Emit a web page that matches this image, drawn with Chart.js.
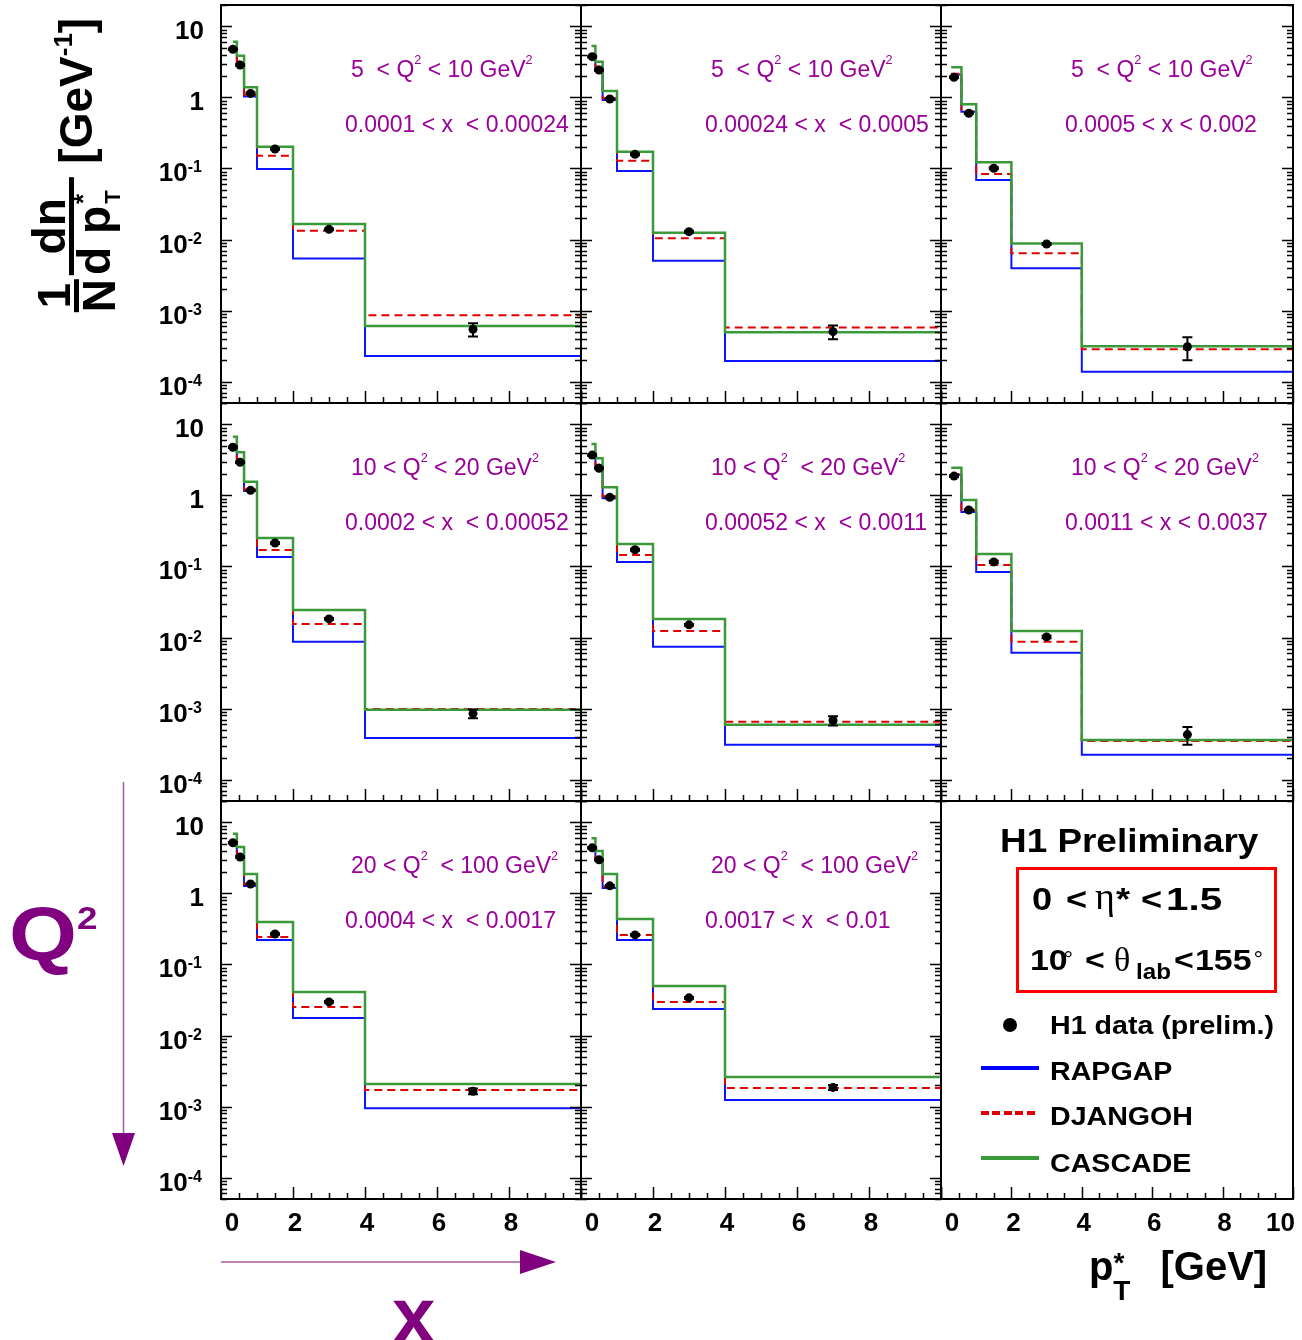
<!DOCTYPE html>
<html lang="en">
<head>
<meta charset="UTF-8">
<title>H1 charged particle pT* spectra</title>
<script src="https://cdn.jsdelivr.net/npm/chart.js@4.4.0/dist/chart.umd.min.js"></script>
<style>
  body { margin: 0; background: #fff; font-family: "Liberation Sans", Arial, sans-serif; }
  #page { position: relative; width: 1302px; height: 1340px; overflow: hidden; }
  canvas.panel { position: absolute; z-index: 1; }
  .abs { position: absolute; white-space: nowrap; line-height: 1; z-index: 2; }
  .b { font-weight: bold; }
  .wide { transform: scaleX(1.13); transform-origin: 0 0; }
  .purple { color: #800080; }
  #ytitle { position: absolute; left: 76px; top: 165px; transform: translate(-50%, -50%) rotate(-90deg); z-index: 2;
            display: flex; align-items: center; font: bold 46px "Liberation Sans", Arial, sans-serif; white-space: nowrap; }
  .frac { display: inline-flex; flex-direction: column; align-items: center; }
  .frac > .n, .frac > .d { line-height: 36px; }
  .frac > .bar { align-self: stretch; height: 5px; background: #000; margin: 2px 0; }
  .greek { font-family: "Liberation Serif", "DejaVu Serif", serif; font-weight: normal; }
  .leg { left: 1050px; font-size: 26px; font-weight: bold; transform: scaleX(1.1); transform-origin: 0 0; }
  .l1 { top: 883px; font-size: 32px; font-weight: bold; }
  .l2 { top: 945px; font-size: 30px; font-weight: bold; }
  .deg { top: 947px; font-size: 24px; }
</style>
</head>
<body>
<div id="page">
  <div id="ytitle">
    <span class="frac"><span class="n">1</span><span class="bar"></span><span class="d">N</span></span>
    <span class="frac" style="margin-left:4px"><span class="n">dn</span><span class="bar"></span><span class="d">d&nbsp;p<span style="font-size:26px;position:relative;top:-18px;margin-left:2px">*</span><span style="font-size:22px;position:relative;top:10px;margin-left:-10px">T</span>&nbsp;</span></span>
    <span style="margin-left:14px">[GeV<span style="font-size:26px;position:relative;top:-20px">-1</span>]</span>
  </div>

  <svg class="abs" style="left:0;top:0" width="1302" height="1340">
    <line x1="123.5" y1="782" x2="123.5" y2="1140" stroke="#a45ca4" stroke-width="1.5"/>
    <polygon points="112,1133 135,1133 123.5,1166" fill="#800080"/>
    <line x1="221" y1="1262" x2="525" y2="1262" stroke="#a45ca4" stroke-width="1.5"/>
    <polygon points="520,1250 520,1274 556,1262" fill="#800080"/>
  </svg>
  <div class="abs b purple" style="left:8.5px;top:896px;font-size:76px;transform:scaleX(1.15);transform-origin:0 0">Q<span style="font-size:32px;position:relative;top:-31px">2</span></div>
  <div class="abs b purple" style="left:392px;top:1276px;font-size:78px">x</div>
  <div class="abs b" style="left:1089px;top:1246px;font-size:40px">p<span style="font-size:28px;position:relative;top:-8px">*</span><span style="font-size:28px;position:relative;top:20px;margin-left:-11px">T</span><span style="margin-left:30px">[GeV]</span></div>

  <div class="abs b" style="left:1000px;top:823px;font-size:34px;transform:scaleX(1.085);transform-origin:0 0">H1 Preliminary</div>
  <div class="abs" style="left:1016px;top:867px;width:261px;height:126px;border:3px solid #ff0000;box-sizing:border-box"></div>
  <span class="abs l1 wide" style="left:1031.5px">0</span>
  <span class="abs l1 wide" style="left:1066px">&lt;</span>
  <span class="abs greek" style="left:1095px;top:877px;font-size:38px">&eta;</span>
  <span class="abs l1 wide" style="left:1116px">*</span>
  <span class="abs l1 wide" style="left:1141px">&lt;</span>
  <span class="abs l1" style="left:1166px;transform:scaleX(1.26);transform-origin:0 0">1.5</span>
  <span class="abs l2 wide" style="left:1030px">10</span>
  <span class="abs deg" style="left:1063.5px">&deg;</span>
  <span class="abs l2 wide" style="left:1085px">&lt;</span>
  <span class="abs greek" style="left:1114px;top:943px;font-size:34px">&theta;</span>
  <span class="abs b" style="left:1136px;top:961px;font-size:22px;transform:scaleX(1.1);transform-origin:0 0">lab</span>
  <span class="abs l2 wide" style="left:1174px">&lt;</span>
  <span class="abs l2 wide" style="left:1194.5px">155</span>
  <span class="abs deg" style="left:1253.5px">&deg;</span>

  <div class="abs" style="left:1003px;top:1018px;width:14px;height:14px;border-radius:50%;background:#000"></div>
  <div class="abs leg" style="top:1012px">H1 data (prelim.)</div>
  <div class="abs" style="left:981px;top:1066px;width:58px;height:4px;background:#0000ff"></div>
  <div class="abs leg" style="top:1058px">RAPGAP</div>
  <div class="abs" style="left:981px;top:1111px;width:56px;height:4px;background:repeating-linear-gradient(90deg,#e00000 0 8px,transparent 8px 11.5px)"></div>
  <div class="abs leg" style="top:1103px">DJANGOH</div>
  <div class="abs" style="left:981px;top:1156px;width:58px;height:4px;background:#3a9a3a"></div>
  <div class="abs leg" style="top:1150px">CASCADE</div>
</div>
<script>
// pT* bin edges of the three x columns (GeV)
const edgesLowX  = [0.33, 0.44, 0.64, 1, 2, 4, 10];
const edgesMidX  = [0.29, 0.40, 0.60, 1, 2, 4, 10];
const edgesHighX = [0.29, 0.58, 1, 2, 4, 10];
// where the data points sit inside the bins
const ptLowX  = [0.33, 0.53, 0.82, 1.5, 3, 7];
const ptMidX  = [0.31, 0.50, 0.80, 1.5, 3, 7];
const ptHighX = [0.37, 0.79, 1.5, 3, 7];

// axis ticks
const xTickValues = [0, 2, 4, 6, 8, 10];
const yTickValues = [10, 1, 0.1, 0.01, 0.001, 0.0001];
const yTickBase = ['10', '1', '10', '10', '10', '10'];
const yTickExp  = ['', '', '-1', '-2', '-3', '-4'];

// 5 < Q2 < 10, 0.0001 < x < 0.00024
const h1_a      = [4.77, 2.86, 1.14, 0.188, 0.0139, 5.46e-4];
const err_a     = [0.12, 0.07, 0.03, 0.005, 0.0004, 1.15e-4];
const rapgap_a  = [4.6, 2.9, 1.03, 0.098, 0.0054, 2.3e-4];
const djangoh_a = [5.0, 3.2, 1.08, 0.151, 0.0133, 8.6e-4];
const cascade_a = [6.1, 3.85, 1.39, 0.203, 0.0166, 6.07e-4];
// 5 < Q2 < 10, 0.00024 < x < 0.0005
const h1_b      = [3.75, 2.43, 0.95, 0.158, 0.0129, 5.05e-4];
const err_b     = [0.1, 0.06, 0.025, 0.004, 0.0004, 1.1e-4];
const rapgap_b  = [3.8, 2.6, 0.92, 0.092, 0.00503, 1.95e-4];
const djangoh_b = [4.0, 2.7, 0.97, 0.128, 0.0104, 5.8e-4];
const cascade_b = [5.3, 3.18, 1.23, 0.172, 0.0125, 4.94e-4];
// 5 < Q2 < 10, 0.0005 < x < 0.002
const h1_c      = [1.92, 0.598, 0.1007, 0.00865, 3.1e-4];
const err_c     = [0.05, 0.015, 0.003, 0.0003, 1.1e-4];
const rapgap_c  = [2.1, 0.63, 0.0689, 0.00394, 1.38e-4];
const djangoh_c = [2.15, 0.64, 0.0838, 0.0064, 2.85e-4];
const cascade_c = [2.66, 0.80, 0.122, 0.0088, 3.15e-4];
// 10 < Q2 < 20, 0.0002 < x < 0.00052
const h1_d      = [4.77, 2.93, 1.18, 0.214, 0.0183, 8.5e-4];
const err_d     = [0.12, 0.07, 0.03, 0.006, 0.0005, 1.2e-4];
const rapgap_d  = [4.7, 2.98, 1.15, 0.136, 0.0087, 3.86e-4];
const djangoh_d = [5.0, 3.2, 1.2, 0.17, 0.0155, 9.9e-4];
const cascade_d = [6.7, 4.05, 1.56, 0.252, 0.0244, 9.6e-4];
// 10 < Q2 < 20, 0.00052 < x < 0.0011
const h1_e      = [3.7, 2.41, 0.94, 0.172, 0.0151, 6.8e-4];
const err_e     = [0.1, 0.06, 0.025, 0.005, 0.0004, 1.0e-4];
const rapgap_e  = [3.75, 2.54, 0.91, 0.116, 0.0074, 3.1e-4];
const djangoh_e = [4.0, 2.7, 0.97, 0.145, 0.0124, 6.5e-4];
const cascade_e = [5.3, 3.33, 1.30, 0.207, 0.0183, 5.9e-4];
// 10 < Q2 < 20, 0.0011 < x < 0.0037
const h1_f      = [1.87, 0.624, 0.116, 0.0102, 4.3e-4];
const err_f     = [0.05, 0.016, 0.004, 0.0004, 1.2e-4];
const rapgap_f  = [1.95, 0.585, 0.0838, 0.0061, 2.24e-4];
const djangoh_f = [2.0, 0.62, 0.105, 0.0087, 3.5e-4];
const cascade_f = [2.45, 0.86, 0.15, 0.0124, 3.6e-4];
// 20 < Q2 < 100, 0.0004 < x < 0.0017
const h1_g      = [5.16, 3.26, 1.36, 0.269, 0.0297, 1.64e-3];
const err_g     = [0.13, 0.08, 0.035, 0.007, 0.0008, 1.5e-4];
const rapgap_g  = [5.0, 3.3, 1.27, 0.221, 0.0177, 9.5e-4];
const djangoh_g = [5.4, 3.5, 1.35, 0.244, 0.0252, 1.71e-3];
const cascade_g = [6.9, 4.5, 1.88, 0.396, 0.041, 2.08e-3];
// 20 < Q2 < 100, 0.0017 < x < 0.01
const h1_h      = [4.38, 2.97, 1.28, 0.261, 0.0339, 1.86e-3];
const err_h     = [0.11, 0.07, 0.03, 0.007, 0.0009, 1.5e-4];
const rapgap_h  = [4.4, 3.0, 1.19, 0.221, 0.0237, 1.24e-3];
const djangoh_h = [4.6, 3.1, 1.25, 0.26, 0.0297, 1.83e-3];
const cascade_h = [6.0, 3.95, 1.88, 0.436, 0.0498, 2.6e-3];

// '^' marks a superscript piece
const panels = [
  { row: 0, col: 0, edges: edgesLowX,  pts: ptLowX,  h1: h1_a, err: err_a, rap: rapgap_a, dja: djangoh_a, cas: cascade_a,
    q2: ['5  < Q', '^2', ' < 10 GeV', '^2'], xr: '0.0001 < x  < 0.00024' },
  { row: 0, col: 1, edges: edgesMidX,  pts: ptMidX,  h1: h1_b, err: err_b, rap: rapgap_b, dja: djangoh_b, cas: cascade_b,
    q2: ['5  < Q', '^2', ' < 10 GeV', '^2'], xr: '0.00024 < x  < 0.0005' },
  { row: 0, col: 2, edges: edgesHighX, pts: ptHighX, h1: h1_c, err: err_c, rap: rapgap_c, dja: djangoh_c, cas: cascade_c,
    q2: ['5  < Q', '^2', ' < 10 GeV', '^2'], xr: '0.0005 < x < 0.002' },
  { row: 1, col: 0, edges: edgesLowX,  pts: ptLowX,  h1: h1_d, err: err_d, rap: rapgap_d, dja: djangoh_d, cas: cascade_d,
    q2: ['10 < Q', '^2', ' < 20 GeV', '^2'], xr: '0.0002 < x  < 0.00052' },
  { row: 1, col: 1, edges: edgesMidX,  pts: ptMidX,  h1: h1_e, err: err_e, rap: rapgap_e, dja: djangoh_e, cas: cascade_e,
    q2: ['10 < Q', '^2', '  < 20 GeV', '^2'], xr: '0.00052 < x  < 0.0011' },
  { row: 1, col: 2, edges: edgesHighX, pts: ptHighX, h1: h1_f, err: err_f, rap: rapgap_f, dja: djangoh_f, cas: cascade_f,
    q2: ['10 < Q', '^2', ' < 20 GeV', '^2'], xr: '0.0011 < x < 0.0037' },
  { row: 2, col: 0, edges: edgesLowX,  pts: ptLowX,  h1: h1_g, err: err_g, rap: rapgap_g, dja: djangoh_g, cas: cascade_g,
    q2: ['20 < Q', '^2', '  < 100 GeV', '^2'], xr: '0.0004 < x  < 0.0017' },
  { row: 2, col: 1, edges: edgesMidX,  pts: ptMidX,  h1: h1_h, err: err_h, rap: rapgap_h, dja: djangoh_h, cas: cascade_h,
    q2: ['20 < Q', '^2', '  < 100 GeV', '^2'], xr: '0.0017 < x  < 0.01' }
];

const colLeft = [221, 581, 941];
const colWidth = [360, 360, 352];
const rowTop = [5, 403, 801];
const rowHeight = 398;
const PAD = { left: 100, right: 8, top: 8, bottom: 50 };
const FONT = '"Liberation Sans", Arial, sans-serif';
const page = document.getElementById('page');

// histogram outline: one point per lower edge, plus the last upper edge
function steps(edges, vals) {
  const out = vals.map((v, i) => ({ x: edges[i], y: v }));
  out.push({ x: edges[edges.length - 1], y: vals[vals.length - 1] });
  return out;
}

function makeCanvas(row, col) {
  const c = document.createElement('canvas');
  c.className = 'panel';
  const w = colWidth[col] + PAD.left + PAD.right;
  const h = rowHeight + PAD.top + PAD.bottom;
  c.width = w; c.height = h;
  c.style.width = w + 'px'; c.style.height = h + 'px';
  c.style.left = (colLeft[col] - PAD.left) + 'px';
  c.style.top = (rowTop[row] - PAD.top) + 'px';
  page.appendChild(c);
  return c;
}

function drawRich(ctx, x, y, parts, size) {
  for (const p of parts) {
    const sup = p[0] === '^';
    const t = sup ? p.slice(1) : p;
    ctx.font = (sup ? size * 0.55 : size) + 'px ' + FONT;
    ctx.fillText(t, x, sup ? y - size * 0.55 : y);
    x += ctx.measureText(t).width;
  }
}

// frame, inward ticks, tick labels and the bin captions
function decoPlugin(cfg) {
  return {
    id: 'deco',
    beforeDatasetDraw(chart, args) {
      if (args.index !== 0 || !cfg.err) return;
      const { ctx, scales: { y } } = chart;
      const meta = chart.getDatasetMeta(0);
      ctx.save();
      ctx.strokeStyle = '#000';
      ctx.lineWidth = 2;
      meta.data.forEach((pt, i) => {
        const v = cfg.h1[i], e = cfg.err[i];
        const yl = y.getPixelForValue(v - e), yh = y.getPixelForValue(v + e);
        ctx.beginPath();
        ctx.moveTo(pt.x, yl); ctx.lineTo(pt.x, yh);
        ctx.moveTo(pt.x - 5, yl); ctx.lineTo(pt.x + 5, yl);
        ctx.moveTo(pt.x - 5, yh); ctx.lineTo(pt.x + 5, yh);
        ctx.stroke();
      });
      ctx.restore();
    },
    afterDatasetsDraw(chart) {
      const { ctx, chartArea: a, scales: { x, y } } = chart;
      ctx.save();
      ctx.strokeStyle = '#000';
      ctx.lineWidth = 1.5;
      ctx.beginPath();
      if (cfg.yTicks) {
        for (let e = -5; e <= 1; e++) {
          for (let m = 1; m <= 9; m++) {
            const v = m * Math.pow(10, e);
            if (v < y.min * 0.999 || v > y.max * 1.001) continue;
            const py = Math.round(y.getPixelForValue(v)) + 0.5;
            const len = m === 1 ? 11 : 6;
            ctx.moveTo(a.left, py); ctx.lineTo(a.left + len, py);
            ctx.moveTo(a.right - len, py); ctx.lineTo(a.right, py);
          }
        }
      }
      for (let t = 0; t <= 10.001; t += 0.5) {
        const px = Math.round(x.getPixelForValue(t)) + 0.5;
        const len = t % 2 === 0 ? 12 : 6;
        ctx.moveTo(px, a.bottom); ctx.lineTo(px, a.bottom - len);
      }
      ctx.stroke();
      ctx.lineWidth = 2;
      ctx.strokeRect(a.left, a.top, a.right - a.left, a.bottom - a.top);

      ctx.fillStyle = '#000';
      ctx.textBaseline = 'alphabetic';
      if (cfg.yLabels) {
        yTickValues.forEach((v, i) => {
          const py = y.getPixelForValue(v);
          ctx.font = 'bold 26px ' + FONT;
          const wb = ctx.measureText(yTickBase[i]).width;
          ctx.font = 'bold 16px ' + FONT;
          const we = yTickExp[i] ? ctx.measureText(yTickExp[i]).width : 0;
          const right = a.left - (yTickExp[i] ? 19 : 17);
          ctx.textAlign = 'left';
          ctx.font = 'bold 26px ' + FONT;
          ctx.fillText(yTickBase[i], right - we - wb, py + 13);
          if (we) {
            ctx.font = 'bold 16px ' + FONT;
            ctx.fillText(yTickExp[i], right - we, py + 4);
          }
        });
      }
      if (cfg.xLabels) {
        ctx.font = 'bold 26px ' + FONT;
        xTickValues.forEach(v => {
          if (v === 10 && !cfg.showTen) return;
          const px = x.getPixelForValue(v);
          if (v === 0) { ctx.textAlign = 'center'; ctx.fillText('0', a.left + 11, a.bottom + 32); }
          else if (v === 10) { ctx.textAlign = 'right'; ctx.fillText('10', a.right + 2, a.bottom + 32); }
          else { ctx.textAlign = 'center'; ctx.fillText(String(v), px + 2, a.bottom + 32); }
        });
      }
      if (cfg.q2) {
        ctx.fillStyle = '#990099';
        ctx.textAlign = 'left';
        drawRich(ctx, a.left + 130, a.top + 72, cfg.q2, 23);
        drawRich(ctx, a.left + 124, a.top + 127, [cfg.xr], 23);
      }
      ctx.restore();
    }
  };
}

function baseOptions() {
  return {
    responsive: false,
    animation: false,
    devicePixelRatio: 1,
    events: [],
    layout: { padding: PAD },
    scales: {
      x: { type: 'linear', min: 0, max: 10, display: false },
      y: { type: 'logarithmic', min: 5e-5, max: 20, display: false }
    },
    plugins: { legend: { display: false }, tooltip: { enabled: false } }
  };
}

panels.forEach(p => {
  const canvas = makeCanvas(p.row, p.col);
  new Chart(canvas, {
    type: 'scatter',
    data: {
      datasets: [
        { type: 'scatter', label: 'H1 data (prelim.)', data: p.pts.map((x, i) => ({ x, y: p.h1[i] })),
          pointRadius: 4.5, pointBackgroundColor: '#000', pointBorderWidth: 0, showLine: false },
        { type: 'line', label: 'CASCADE', data: steps(p.edges, p.cas), stepped: true, fill: false,
          borderColor: '#3a9a3a', borderWidth: 2.5, pointRadius: 0 },
        { type: 'line', label: 'DJANGOH', data: steps(p.edges, p.dja), stepped: true, fill: false,
          borderColor: '#e00000', borderWidth: 2, borderDash: [8, 5], pointRadius: 0 },
        { type: 'line', label: 'RAPGAP', data: steps(p.edges, p.rap), stepped: true, fill: false,
          borderColor: '#0a14ff', borderWidth: 2, pointRadius: 0 }
      ]
    },
    options: baseOptions(),
    plugins: [decoPlugin({
      h1: p.h1, err: p.err, q2: p.q2, xr: p.xr,
      yTicks: true, yLabels: p.col === 0, xLabels: p.row === 2, showTen: false
    })]
  });
});

// empty frame in the last cell that carries the legend
new Chart(makeCanvas(2, 2), {
  type: 'scatter',
  data: { datasets: [] },
  options: baseOptions(),
  plugins: [decoPlugin({ yTicks: false, yLabels: false, xLabels: true, showTen: true })]
});
</script>
</body>
</html>
